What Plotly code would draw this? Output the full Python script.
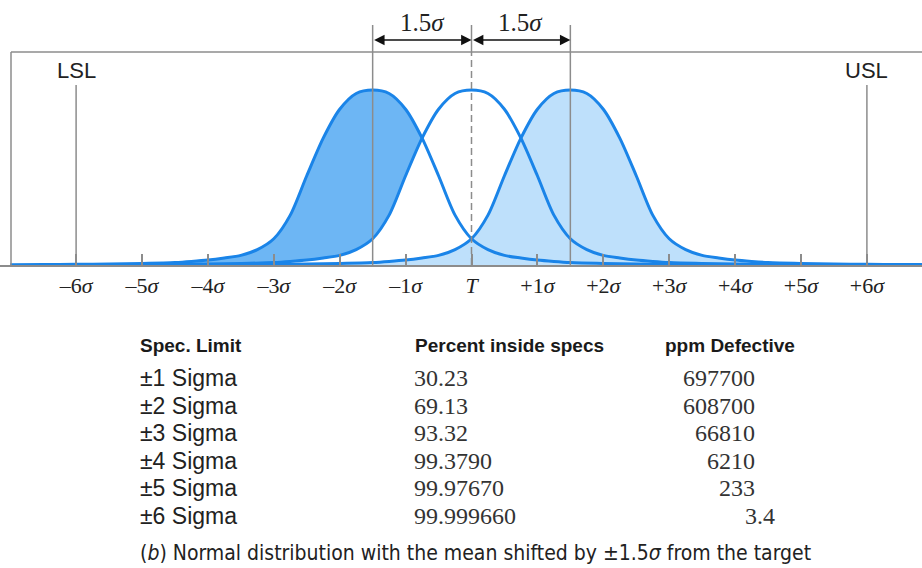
import plotly.graph_objects as go

# ---------------- data ----------------
tick_values = [-6, -5, -4, -3, -2, -1, 0, 1, 2, 3, 4, 5, 6]
tick_labels = ["–6<i>σ</i>", "–5<i>σ</i>", "–4<i>σ</i>", "–3<i>σ</i>", "–2<i>σ</i>", "–1<i>σ</i>",
               "<i>T</i>", "+1<i>σ</i>", "+2<i>σ</i>", "+3<i>σ</i>", "+4<i>σ</i>", "+5<i>σ</i>", "+6<i>σ</i>"]

target = 0.0
shift = 1.5
means = [target - shift, target, target + shift]   # left-shifted, centred, right-shifted
lsl, usl = -6, 6

# curve profile (height relative to peak vs. distance from mean, in sigma)
offsets = [-5.5, -5.0, -4.5, -4.0, -3.5, -3.0, -2.75, -2.5, -2.25, -2.0, -1.75, -1.5, -1.25,
           -1.0, -0.75, -0.5, -0.25, 0.0, 0.25, 0.5, 0.75, 1.0, 1.25, 1.5, 1.75, 2.0, 2.25,
           2.5, 2.75, 3.0, 3.5, 4.0, 4.5, 5.0, 5.5]
profile = [0.002, 0.003, 0.004, 0.006, 0.009, 0.014, 0.020, 0.028, 0.040, 0.055, 0.088, 0.150, 0.285,
           0.510, 0.725, 0.890, 0.980, 1.000, 0.980, 0.890, 0.725, 0.510, 0.285, 0.150, 0.088, 0.055, 0.040,
           0.028, 0.020, 0.014, 0.009, 0.006, 0.004, 0.003, 0.002]

spec_limits = ["±1 Sigma", "±2 Sigma", "±3 Sigma", "±4 Sigma", "±5 Sigma", "±6 Sigma"]
pct_inside = ["30.23", "69.13", "93.32", "99.3790", "99.97670", "99.999660"]
ppm_defective = ["697700", "608700", "66810", "6210", "233", "3.4"]
headers = ["Spec. Limit", "Percent inside specs", "ppm Defective"]
caption = "(<i>b</i>) Normal distribution with the mean shifted by ±1.5<i>σ</i> from the target"

# ---------------- styling / layout helpers ----------------
W, H = 922, 568
PLOT_BOTTOM = 265          # px of baseline
PX_PER_SIGMA = 65.9
X0_PX = 471.5              # px of target
PX_PER_UNIT_Y = 175.0

def xd(px):  # pixel -> data x
    return (px - X0_PX) / PX_PER_SIGMA

def yd(py):  # pixel -> data y
    return (PLOT_BOTTOM - py) / PX_PER_UNIT_Y

def xp(px):
    return px / W

def yp(py):
    return (PLOT_BOTTOM - py) / PLOT_BOTTOM

LINE = "#1A84E8"
DARK = "#6DB6F4"
LIGHT = "#BEE0FB"
GRAY = "#8C8C8C"
SERIF = "Liberation Serif, Times New Roman, serif"
SANS = "Liberation Sans, Arial, sans-serif"
COND = "DejaVu Sans Condensed, Liberation Sans, sans-serif"

curves = []
for m in means:
    curves.append(([m + d for d in offsets], list(profile)))

(xl, yl), (xc, yc), (xr, yr) = curves
cross_left = (means[0] + means[1]) / 2

fig = go.Figure()
spl = dict(shape="spline", smoothing=0.8)

# light fill under right-shifted curve
fig.add_trace(go.Scatter(x=xr, y=yr, mode="lines", line=dict(width=0, color=LIGHT, **spl),
                         fill="tozeroy", fillcolor=LIGHT, hoverinfo="skip", showlegend=False))
# dark fill between left-shifted curve and centred curve
xa = [x for x in xc if x <= cross_left + 1e-9]
ya = [y for x, y in zip(xc, yc) if x <= cross_left + 1e-9]
xb = [x for x in xl if x <= cross_left + 1e-9]
yb = [y for x, y in zip(xl, yl) if x <= cross_left + 1e-9]
fig.add_trace(go.Scatter(x=xa, y=ya, mode="lines", line=dict(width=0, color=DARK, **spl),
                         hoverinfo="skip", showlegend=False))
fig.add_trace(go.Scatter(x=xb, y=yb, mode="lines", line=dict(width=0, color=DARK, **spl),
                         fill="tonexty", fillcolor=DARK, hoverinfo="skip", showlegend=False))
# the three curve outlines
for xs, ys in curves:
    fig.add_trace(go.Scatter(x=xs, y=ys, mode="lines", line=dict(width=3, color=LINE, **spl),
                             hoverinfo="skip", showlegend=False))

box_top = yd(52)
shapes = [
    dict(type="line", xref="x", yref="y", x0=xd(11), x1=xd(W + 20), y0=box_top, y1=box_top,
         line=dict(color=GRAY, width=1.5)),
    dict(type="line", xref="x", yref="y", x0=xd(11), x1=xd(11), y0=0, y1=box_top,
         line=dict(color=GRAY, width=1.5)),
]
# LSL / USL lines
for v in (lsl, usl):
    shapes.append(dict(type="line", xref="x", yref="y", x0=v, x1=v, y0=0, y1=yd(85),
                       line=dict(color=GRAY, width=1.5), layer="above"))
# shifted means lines
for v in (means[0], means[2]):
    shapes.append(dict(type="line", xref="x", yref="y", x0=v, x1=v, y0=0, y1=yd(25),
                       line=dict(color=GRAY, width=1.5), layer="above"))
# target line: dashed inside the box, solid above it
shapes.append(dict(type="line", xref="x", yref="y", x0=target, x1=target, y0=0, y1=box_top,
                   line=dict(color=GRAY, width=1.5, dash="7px,4px"), layer="above"))
shapes.append(dict(type="line", xref="x", yref="y", x0=target, x1=target, y0=box_top, y1=yd(25),
                   line=dict(color=GRAY, width=1.5), layer="above"))

annotations = []
# double arrows for 1.5 sigma
arrow_y = yd(40)
for a, b in ((means[0], means[1]), (means[1], means[2])):
    annotations.append(dict(x=b, y=arrow_y, ax=a, ay=arrow_y, xref="x", yref="y", axref="x", ayref="y",
                            text="", showarrow=True, arrowside="end+start", arrowhead=2, startarrowhead=2,
                            arrowsize=1.3, startarrowsize=1.3, arrowwidth=1.6, arrowcolor="#111",
                            standoff=0, startstandoff=0))
    annotations.append(dict(x=(a + b) / 2, y=yd(22), xref="x", yref="y", showarrow=False,
                            text="1.5<i>σ</i>", font=dict(family=SERIF, size=25, color="#222")))
# LSL / USL labels
annotations.append(dict(x=lsl, y=yd(70), xref="x", yref="y", showarrow=False, text="LSL",
                        font=dict(family=SANS, size=22, color="#222")))
annotations.append(dict(x=usl, y=yd(70), xref="x", yref="y", showarrow=False, text="USL",
                        font=dict(family=SANS, size=22, color="#222")))

# table
hdr_x = [138, 413, 663]
for hx, t in zip(hdr_x, headers):
    annotations.append(dict(x=xp(hx), y=yp(345), xref="paper", yref="paper", xanchor="left", yanchor="middle",
                            showarrow=False, text=f"<b>{t}</b>",
                            font=dict(family=SANS, size=19, color="#1a1a1a")))
row0, dy = 378, 27.6
for i, (s, p, d) in enumerate(zip(spec_limits, pct_inside, ppm_defective)):
    y = yp(row0 + i * dy)
    annotations.append(dict(x=xp(138), y=y, xref="paper", yref="paper", xanchor="left", yanchor="middle",
                            showarrow=False, text=s, font=dict(family=SANS, size=23, color="#222")))
    annotations.append(dict(x=xp(412), y=y, xref="paper", yref="paper", xanchor="left", yanchor="middle",
                            showarrow=False, text=p, font=dict(family=SERIF, size=24, color="#333")))
    right = 757 + (20 if "." in d else 0)
    annotations.append(dict(x=xp(right), y=y, xref="paper", yref="paper", xanchor="right", yanchor="middle",
                            showarrow=False, text=d, font=dict(family=SERIF, size=24, color="#333")))
annotations.append(dict(x=xp(138), y=yp(553), xref="paper", yref="paper", xanchor="left", yanchor="middle",
                        showarrow=False, text=caption, font=dict(family=COND, size=21, color="#222")))

fig.update_layout(
    width=W, height=H,
    margin=dict(l=0, r=0, t=0, b=H - PLOT_BOTTOM, pad=0),
    plot_bgcolor="white", paper_bgcolor="white",
    showlegend=False,
    shapes=shapes, annotations=annotations,
    xaxis=dict(range=[xd(0), xd(W)], tickvals=tick_values, ticktext=tick_labels,
               ticks="inside", ticklen=11, tickwidth=1.5, tickcolor=GRAY,
               showline=True, linecolor=GRAY, linewidth=1.5, showgrid=False, zeroline=False,
               tickfont=dict(family=SERIF, size=22, color="#222"), fixedrange=True),
    yaxis=dict(range=[0, yd(0)], visible=False, showgrid=False, zeroline=False, fixedrange=True),
)

fig.write_html("out.html")
